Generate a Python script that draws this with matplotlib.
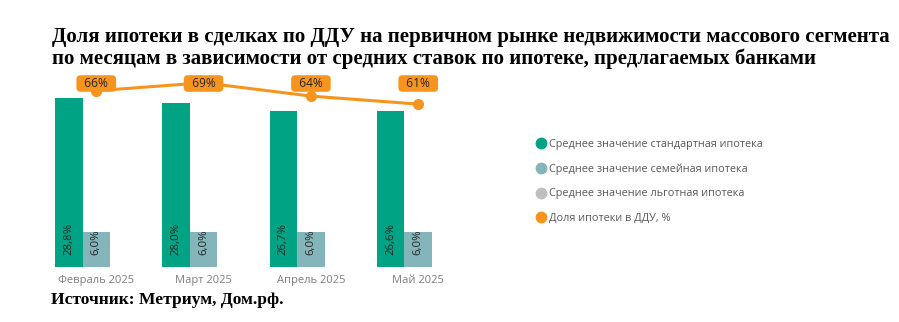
import matplotlib

matplotlib.use("Agg")
import matplotlib.pyplot as plt
import matplotlib.transforms as mtransforms
from matplotlib.lines import Line2D
import numpy as np

# data
MONTHS = ["Февраль 2025", "Март 2025", "Апрель 2025", "Май 2025"]
STANDARD = [28.8, 28.0, 26.7, 26.6]
FAMILY = [6.0, 6.0, 6.0, 6.0]
PREFERENTIAL = [0.0, 0.0, 0.0, 0.0]
SHARE = [66, 69, 64, 61]

SERIES_NAMES = [
    "Среднее значение стандартная ипотека",
    "Среднее значение семейная ипотека",
    "Среднее значение льготная ипотека",
    "Доля ипотеки в ДДУ, %",
]

GREEN = "#00A383"
TEAL = "#84B5BA"
GREY = "#BFBFBF"
ORANGE = "#F7941D"

SANS = ["Open Sans", "DejaVu Sans"]
SERIF = ["Liberation Serif", "DejaVu Serif"]

W, H = 899, 322
fig = plt.figure(figsize=(W / 100, H / 100), dpi=100)

# axes box in pixels: left 42.6, right 471.9, bottom y=267, top y=75
ax = fig.add_axes([42.6 / W, (H - 267) / H, 429.3 / W, 192 / H])
ax2 = ax.twinx()

x = np.arange(len(MONTHS))
bw = 0.256
bars_std = ax.bar(x - bw, STANDARD, bw, color=GREEN)
bars_fam = ax.bar(x, FAMILY, bw, color=TEAL)
ax.bar(x + bw, PREFERENTIAL, bw, color=GREY)

for bars, vals in ((bars_std, STANDARD), (bars_fam, FAMILY)):
    for b, v in zip(bars, vals):
        ax.text(
            b.get_x() + b.get_width() / 2,
            2.0,
            f"{v:.1f}%".replace(".", ","),
            rotation=90,
            ha="center",
            va="bottom",
            fontsize=8.2,
            color="#262626",
            family=SANS,
        )

ax.set_xlim(-0.5, len(MONTHS) - 0.5)
ax.set_ylim(0, 32.76)
ax.set_xticks(x)
ax.set_xticklabels(MONTHS, fontsize=8, color="#7F7F7F", family=SANS)
ax.tick_params(axis="x", length=0, pad=6)
ax.set_yticks([])

ax2.plot(x, SHARE, color=ORANGE, lw=2.2, marker="o", ms=7)
ax2.set_ylim(0, 71.9)
ax2.set_yticks([])

# value labels sit at a fixed height above the line
trans = mtransforms.blended_transform_factory(ax2.transData, fig.transFigure)
for xi, v in zip(x, SHARE):
    ax2.text(
        xi,
        (H - 83.5) / H,
        f"  {v}%  ",
        transform=trans,
        ha="center",
        va="center",
        fontsize=8.6,
        color="#262626",
        family=SANS,
        bbox=dict(boxstyle="round,pad=0.15,rounding_size=0.35", fc=ORANGE, ec="none"),
        zorder=5,
    )

for a in (ax, ax2):
    for s in a.spines.values():
        s.set_visible(False)

handles = [
    Line2D([0], [0], marker="o", color="w", markerfacecolor=c, markeredgecolor=c,
           markersize=7.5, linestyle="none", label=lab)
    for c, lab in zip([GREEN, TEAL, GREY, ORANGE], SERIES_NAMES)
]
leg = fig.legend(
    handles=handles,
    loc="upper left",
    bbox_to_anchor=(527 / W, (H - 129) / H),
    frameon=False,
    handlelength=0.8,
    handletextpad=0.3,
    labelspacing=1.25,
    prop={"family": SANS, "size": 7.8},
)
for t in leg.get_texts():
    t.set_color("#595959")

fig.text(52 / W, (H - 37) / H,
         "Доля ипотеки в сделках по ДДУ на первичном рынке недвижимости массового сегмента",
         fontsize=15.0, weight="bold", family=SERIF, va="center", ha="left")
fig.text(52 / W, (H - 59) / H,
         "по месяцам в зависимости от средних ставок по ипотеке, предлагаемых банками",
         fontsize=15.0, weight="bold", family=SERIF, va="center", ha="left")
fig.text(51 / W, (H - 300) / H, "Источник: Метриум, Дом.рф.",
         fontsize=12.6, weight="bold", family=SERIF, va="center", ha="left")

fig.savefig("out.png", dpi=100)
